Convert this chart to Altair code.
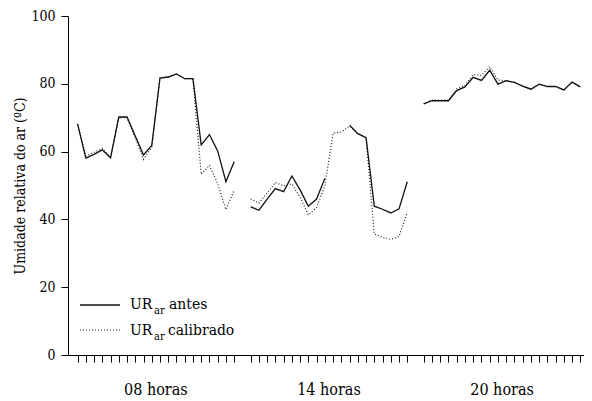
import altair as alt
import pandas as pd

groups = ["08 horas", "14 horas", "20 horas"]

ur_antes = [
    [68.2, 58.1, 59.2, 60.5, 58.1, 70.2, 70.2, 64.6, 59.0, 61.8,
     81.7, 82.0, 82.9, 81.5, 81.5, 62.0, 65.0, 60.2, 51.1, 57.0],
    [43.7, 42.7, 46.0, 49.1, 48.2, 52.8, 48.7, 43.9, 46.0, 52.1,
     None, None, 67.8, 65.3, 64.1, 43.9, 43.0, 41.9, 43.1, 51.1],
    [74.1, 75.0, 75.0, 75.0, 78.0, 79.1, 81.9, 81.0, 84.0, 79.9,
     80.9, 80.4, 79.3, 78.4, 79.9, 79.2, 79.2, 78.2, 80.5, 79.1],
]
ur_calibrado = [
    [68.2, 58.7, 59.8, 60.9, 58.4, 70.0, 70.0, 64.0, 57.7, 61.3,
     81.7, 82.0, 82.9, 81.5, 81.5, 53.3, 56.0, 50.5, 42.9, 48.6],
    [46.0, 44.8, 47.8, 50.9, 49.9, 50.5, 46.5, 41.3, 43.5, 49.9,
     65.4, 65.8, 67.5, 65.3, 64.1, 35.7, 34.7, 34.1, 34.9, 42.1],
    [74.1, 75.2, 75.2, 75.2, 78.5, 79.5, 82.7, 82.5, 85.1, 81.1,
     80.9, 80.4, 79.3, 78.4, 79.9, 79.2, 79.2, 78.2, 80.5, 79.1],
]
y_ticks = [0, 20, 40, 60, 80, 100]

N = 20
GAP = 1
rows = []
for gi in range(len(groups)):
    offset = gi * (N + GAP)
    for serie, arr in (("antes", ur_antes[gi]), ("calibrado", ur_calibrado[gi])):
        seg = 0
        broken = False
        for i, v in enumerate(arr):
            if v is None:
                broken = True
                continue
            if broken:
                seg += 1
                broken = False
            rows.append({"x": offset + i, "v": v, "serie": serie,
                         "seg": f"{serie}-{gi}-{seg}"})
df = pd.DataFrame(rows)
tick_vals = [gi * (N + GAP) + i for gi in range(len(groups)) for i in range(N)]
label_df = pd.DataFrame({
    "x": [gi * (N + GAP) + (N - 1) / 2 for gi in range(len(groups))],
    "label": groups,
})

FONT = "DejaVu Serif Condensed, DejaVu Serif"
W, H = 516, 339

xscale = alt.Scale(domain=[-1.16, 61.44], nice=False, zero=False)
yscale = alt.Scale(domain=[0, 100], nice=False, zero=True)
xaxis = alt.Axis(values=tick_vals, labels=False, tickSize=7, grid=False,
                 domainColor="black", tickColor="black", title=None)
yaxis = alt.Axis(values=y_ticks, tickSize=7, labelPadding=6, grid=False,
                 domainColor="black", tickColor="black", labelColor="black",
                 labelFont=FONT, labelFontSize=14,
                 title="Umidade relativa do ar (ºC)", titleFont=FONT,
                 titleFontSize=14, titleFontWeight="normal", titleColor="black",
                 titleX=-48, titleY=H / 2, titleBaseline="middle")

X = alt.X("x:Q", scale=xscale, axis=xaxis)
Y = alt.Y("v:Q", scale=yscale, axis=yaxis)

calib = alt.Chart(df).transform_filter(alt.datum.serie == "calibrado").mark_line(
    color="#222", strokeWidth=1.2, strokeDash=[1, 2]
).encode(x=X, y=Y, detail="seg:N")

antes = alt.Chart(df).transform_filter(alt.datum.serie == "antes").mark_line(
    color="#111", strokeWidth=1.3
).encode(x=X, y=Y, detail="seg:N")

labels = alt.Chart(label_df).mark_text(
    font=FONT, fontSize=16, baseline="alphabetic", align="center", color="black"
).encode(x=X, y=alt.value(379), text="label:N")

one = pd.DataFrame({"a": [0]})

def txt(t, x, y, size):
    return alt.Chart(one).mark_text(
        text=t, font=FONT, fontSize=size, align="left",
        baseline="alphabetic", color="black"
    ).encode(x=alt.value(x), y=alt.value(y))

leg_solid = alt.Chart(one).mark_rule(color="#111", strokeWidth=1.3).encode(
    x=alt.value(12), x2=alt.value(52), y=alt.value(289))
leg_dot = alt.Chart(one).mark_rule(color="#222", strokeWidth=1.2, strokeDash=[1, 2]).encode(
    x=alt.value(12), x2=alt.value(52), y=alt.value(314))

legend = [
    leg_solid, leg_dot,
    txt("UR", 62, 293, 15.5), txt("ar", 86, 298, 11), txt("antes", 101, 293, 15.5),
    txt("UR", 62, 319, 15.5), txt("ar", 86, 324, 11), txt("calibrado", 100, 319, 15.5),
]

chart = alt.layer(calib, antes, labels, *legend).properties(
    width=W, height=H,
    autosize=alt.AutoSizeParams(type="none"),
    padding={"left": 60, "top": 8, "right": 0, "bottom": 43},
).configure_view(stroke=None)

chart.save("out.html", embed_options={"renderer": "svg", "actions": False})
